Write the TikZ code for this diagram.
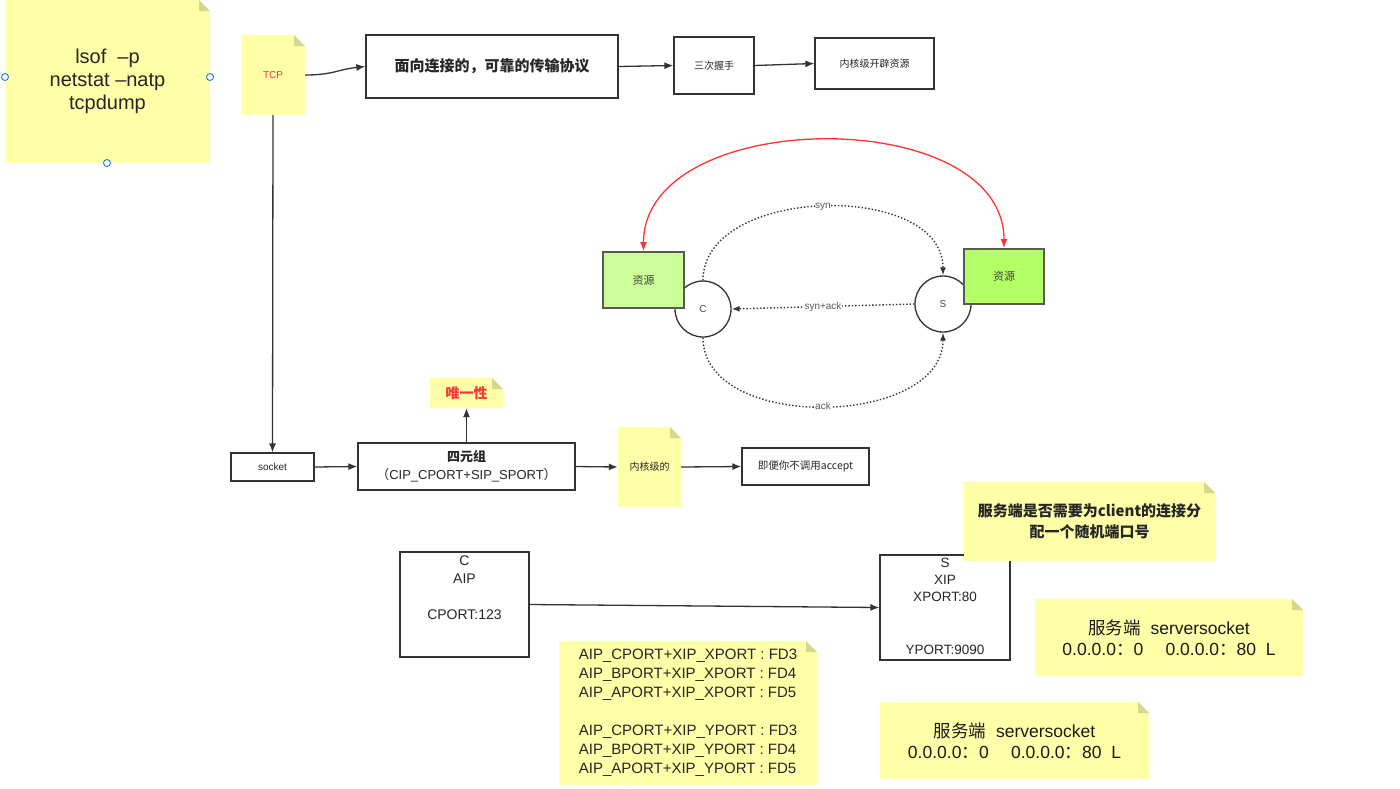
\documentclass[tikz,border=0pt]{standalone}
\usepackage{fontspec}
\setmainfont{Liberation Sans}
\newfontfamily\cjk{Noto Sans CJK SC}
\usetikzlibrary{positioning,calc,arrows.meta}
\definecolor{notey}{HTML}{FFFFA8}
\definecolor{notefold}{HTML}{D6D68C}
\definecolor{linegray}{HTML}{333333}
\definecolor{resleft}{HTML}{CCFF99}
\definecolor{resright}{HTML}{B3FF66}
\definecolor{hsred}{HTML}{FF3333}
\definecolor{handle}{HTML}{1E7BE6}

\begin{document}
\begin{tikzpicture}[x=1pt, y=-1pt,
  box/.style={draw=linegray, line width=1.3pt, fill=white, align=center,
              inner sep=2pt, text=black!85},
  note/.style={fill=notey, align=center, inner sep=2pt, text=black!85,
              path picture={
                \fill[white] ([xshift=-11pt]path picture bounding box.north east)
                  -- (path picture bounding box.north east)
                  -- ([yshift=-11pt]path picture bounding box.north east) -- cycle;
                \fill[notefold] ([xshift=-11pt]path picture bounding box.north east)
                  -- ([yshift=-11pt]path picture bounding box.north east)
                  -- ([xshift=-11pt,yshift=-11pt]path picture bounding box.north east) -- cycle;
              }},
  res/.style={draw=black!65, line width=1.8pt, inner sep=0pt,
              font=\cjk\fontsize{11}{13}\selectfont, text=black!75},
  peer/.style={circle, draw=linegray, line width=1.3pt, fill=white,
              inner sep=0pt, minimum size=56pt,
              font=\fontsize{10}{12}\selectfont, text=black!70},
  flow/.style={line width=1.3pt, linegray, -{Latex[length=9pt,width=7pt]}},
  hs/.style={line width=1.4pt, dotted, linegray, -{Latex[length=8pt,width=6pt]}},
  hslabel/.style={fill=white, inner sep=0.5pt,
              font=\fontsize{10}{11}\selectfont, text=black!65},
  both/.style={line width=1.3pt, hsred,
              {Latex[length=9pt,width=7pt]}-{Latex[length=9pt,width=7pt]}},
]

% Page frame (fixes the margins).
\fill[white] (0,0) rectangle (1400,788);

% Tools note, with its selection handles.
\node[note, minimum width=205pt, minimum height=163pt,
      font=\fontsize{20}{23}\selectfont] (tools) at (107.5,81.5)
  {lsof\ \ –p\\netstat –natp\\tcpdump};
\foreach \hx/\hy in {5/77, 210/77, 107/163}
  \draw[handle, fill=white, line width=0.9pt] (\hx,\hy) circle (3.5);

% TCP chain along the top.
\node[note, minimum width=64pt, minimum height=80pt,
      font=\fontsize{10}{12}\selectfont, text=hsred] (tcp) at (273,75) {TCP};
\node[box, minimum width=252pt, minimum height=63pt,
      font=\cjk\bfseries\fontsize{15}{18}\selectfont] (proto) at (492,66.5)
  {面向连接的，可靠的传输协议};
\node[box, minimum width=80pt, minimum height=57pt,
      font=\cjk\fontsize{10}{12}\selectfont] (shake) at (714,65.5) {三次握手};
\node[box, minimum width=119pt, minimum height=51pt,
      font=\cjk\fontsize{10}{12}\selectfont] (kalloc) at (874.5,63.5) {内核级开辟资源};

\draw[flow] (tcp.east) .. controls +(28,0) and +(-28,3) .. (proto.west);
\draw[flow] (proto.east) -- (shake.west);
\draw[flow] (shake.east) -- (kalloc.west);

% Three-way handshake (circles first, resource boxes on top).
\node[peer] (cli) at (703,309) {C};
\node[peer] (srv) at (943,304) {S};
\node[res, fill=resleft, minimum width=81pt, minimum height=56pt] (resc)
  at (643.5,280) {资源};
\node[res, fill=resright, minimum width=80pt, minimum height=55pt] (ress)
  at (1004,276.5) {资源};

\draw[both] (resc.north) .. controls +(0,-145) and +(0,-145) .. (ress.north);
\draw[hs] (cli.north) .. controls +(0,-95) and +(0,-95) ..
  node[hslabel] {syn} (srv.north);
\draw[hs] (srv.west) -- node[hslabel] {syn+ack} (cli.east);
\draw[hs] (cli.south) .. controls +(0,95) and +(0,95) ..
  node[hslabel] {ack} (srv.south);

% socket row.
\node[box, minimum width=83pt, minimum height=28pt,
      font=\fontsize{10}{12}\selectfont] (sock) at (272.5,467) {socket};
\node[box, minimum width=217pt, minimum height=47pt,
      font=\fontsize{13}{18}\selectfont] (quad) at (466.5,466.5)
  {{\cjk\bfseries 四元组}\\{\cjk （}CIP\_CPORT+SIP\_SPORT{\cjk ）}};
\node[note, minimum width=73pt, minimum height=30pt,
      font=\cjk\bfseries\fontsize{14}{16}\selectfont, text=hsred] (uniq)
  at (466.5,393) {唯一性};
\node[note, minimum width=63pt, minimum height=80pt,
      font=\cjk\fontsize{10}{12}\selectfont] (kern) at (649.5,467) {内核级的};
\node[box, minimum width=127pt, minimum height=37pt,
      font=\cjk\fontsize{10.5}{12}\selectfont] (acc) at (805.5,466.5)
  {即便你不调用accept};

\draw[flow] (tcp.south) -- (sock.north);
\draw[flow] (sock.east) -- (quad.west);
\draw[flow] (quad.north) -- (uniq.south);
\draw[flow] (quad.east) -- (kern.west);
\draw[flow] (kern.east) -- (acc.west);

% Client and server ends.
\node[box, minimum width=129pt, minimum height=105pt] (cbox) at (464.5,604.5) {};
\node[align=center, inner sep=0pt, text=black!85,
      font=\fontsize{14}{18}\selectfont, below=4pt of cbox.north] (ctext)
  {C\\AIP\\[18pt]CPORT:123};
\node[box, minimum width=130pt, minimum height=105pt] (sbox) at (945,607.5) {};
\node[align=center, inner sep=0pt, text=black!85,
      font=\fontsize{13.5}{17}\selectfont, below=4pt of sbox.north] (stext)
  {S\\XIP\\XPORT:80};
\node[inner sep=0pt, text=black!85, font=\fontsize{13.5}{17}\selectfont,
      above=6pt of sbox.south] (yport) {YPORT:9090};

\draw[flow] (cbox.east) -- (sbox.west);

% Notes about the server side.
\node[note, minimum width=251pt, minimum height=79pt,
      font=\cjk\bfseries\fontsize{15}{21}\selectfont] (ask) at (1089.5,521.5)
  {服务端是否需要为client的连接分\\配一个随机端口号};
\node[note, minimum width=268pt, minimum height=77pt, text=black!90,
      font=\fontsize{17.5}{21}\selectfont] (ssa) at (1169,637.5)
  {{\cjk 服务端}\ \ serversocket\\0.0.0.0{\cjk ：}0\quad\ 0.0.0.0{\cjk ：}80\ \ L};
\node[note, minimum width=269pt, minimum height=77pt, text=black!90,
      font=\fontsize{17.5}{21}\selectfont] (ssb) at (1014.5,740.5)
  {{\cjk 服务端}\ \ serversocket\\0.0.0.0{\cjk ：}0\quad\ 0.0.0.0{\cjk ：}80\ \ L};
\node[note, minimum width=258pt, minimum height=144pt, align=left,
      font=\fontsize{15}{19}\selectfont] (fds) at (688,713)
  {AIP\_CPORT+XIP\_XPORT : FD3\\AIP\_BPORT+XIP\_XPORT : FD4\\
   AIP\_APORT+XIP\_XPORT : FD5\\[19pt]
   AIP\_CPORT+XIP\_YPORT : FD3\\AIP\_BPORT+XIP\_YPORT : FD4\\
   AIP\_APORT+XIP\_YPORT : FD5};

\end{tikzpicture}
\end{document}
